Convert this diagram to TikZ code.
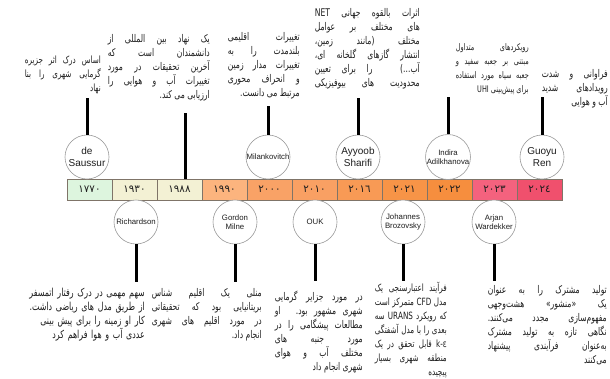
\documentclass[tikz,border=0pt]{standalone}
\usepackage{fontspec}
\setmainfont{Liberation Sans}
\newfontfamily\fa[Script=Arabic]{DejaVu Sans}
\newfontfamily\fan[Script=Arabic, FakeStretch=0.72]{DejaVu Sans}
\TeXXeTstate=1
\definecolor{c1770}{HTML}{DDF5DE}
\definecolor{c1930}{HTML}{F3F1D4}
\definecolor{c1990}{HTML}{FCB47E}
\definecolor{c2000}{HTML}{F9A266}
\definecolor{c2010}{HTML}{F9A063}
\definecolor{c2016}{HTML}{F89A55}
\definecolor{c2021}{HTML}{F79447}
\definecolor{c2022}{HTML}{F68E3E}
\definecolor{c2023}{HTML}{F4627E}
\definecolor{c2024}{HTML}{F0506D}
\definecolor{cellline}{HTML}{7F7468}
\definecolor{circline}{HTML}{9A9A9A}
\definecolor{inktext}{HTML}{1E1E1E}
\newcommand\rtlj[1]{\parfillskip=0pt\relax\leftskip=0pt\relax\rightskip=0pt\relax\hbadness=10000\relax\tolerance=10000\relax\beginR #1\hfill\endR}
\newcommand\rtlline[1]{\beginR #1\endR\par}
\tikzset{
  yearcell/.style={draw=cellline, line width=0.6pt, minimum width=45pt, minimum height=21pt, inner sep=0pt, font=\fa\fontsize{10.3}{10.3}\selectfont, text=inktext},
  person/.style={circle, draw=circline, fill=white, line width=0.6pt, minimum size=44pt, inner sep=0pt, align=center, text=inktext},
  bigname/.style={font=\fontsize{10}{11.5}\selectfont},
  smallname/.style={font=\fontsize{7.8}{9.3}\selectfont},
  stem/.style={line width=3pt, black},
  desc/.style={inner sep=0pt, anchor=base east, align=justify, font=\fan\fontsize{10.6}{14}\selectfont, text=inktext},
  descsmall/.style={font=\fan\fontsize{10}{14}\selectfont},
}
\begin{document}
\begin{tikzpicture}[x=1pt,y=-1pt]
\useasboundingbox (0,0) rectangle (610,378);
\clip (0,0) rectangle (610,378);
% timeline cells
\node[yearcell, fill=c1770] (y1770) at (89.5,189.5) {١٧٧٠};
\node[yearcell, fill=c1930] (y1930) at (134.5,189.5) {١٩٣٠};
\node[yearcell, fill=c1930] (y1988) at (179.5,189.5) {١٩٨٨};
\node[yearcell, fill=c1990] (y1990) at (224.5,189.5) {١٩٩٠};
\node[yearcell, fill=c2000] (y2000) at (269.5,189.5) {٢٠٠٠};
\node[yearcell, fill=c2010] (y2010) at (314.5,189.5) {٢٠١٠};
\node[yearcell, fill=c2016] (y2016) at (359.5,189.5) {٢٠١٦};
\node[yearcell, fill=c2021] (y2021) at (404.5,189.5) {٢٠٢١};
\node[yearcell, fill=c2022] (y2022) at (449.5,189.5) {٢٠٢٢};
\node[yearcell, fill=c2023] (y2023) at (494.5,189.5) {٢٠٢٣};
\node[yearcell, fill=c2024] (y2024) at (539.5,189.5) {٢٠٢٤};
% people above
\node[person, bigname] (saussur) at (87,157) {de\\Saussur};
\node[person, smallname] (milank) at (268,157) {Milankovitch};
\node[person, bigname] (sharifi) at (358,157) {Ayyoob\\Sharifi};
\node[person, smallname] (indira) at (448,157) {Indira\\Adilkhanova};
\node[person, bigname] (guoyu) at (542,157) {Guoyu\\Ren};
% people below
\node[person, smallname] (richard) at (136,222) {Richardson};
\node[person, smallname] (gordon) at (235,222) {Gordon\\Milne};
\node[person, smallname] (ouk) at (315,222) {OUK};
\node[person, smallname] (johannes) at (403,222) {Johannes\\Brozovsky};
\node[person, smallname] (arjan) at (494,222) {Arjan\\Wardekker};
% stem ends
\coordinate (tSaussur) at (87,98);
\coordinate (t1988) at (185,113);
\coordinate (tMilank) at (268,106);
\coordinate (tSharifi) at (358,98);
\coordinate (tIndira) at (448,97);
\coordinate (tGuoyu) at (542,97);
\coordinate (bRichard) at (136,282);
\coordinate (bGordon) at (235,282);
\coordinate (bOuk) at (315,281);
\coordinate (bJohannes) at (403,281);
\coordinate (bArjan) at (494,281);
\draw[stem] (saussur) -- (tSaussur);
\draw[stem] (t1988) -- (t1988 |- y1988.north);
\draw[stem] (milank) -- (tMilank);
\draw[stem] (sharifi) -- (tSharifi);
\draw[stem] (indira) -- (tIndira);
\draw[stem] (guoyu) -- (tGuoyu);
\draw[stem] (richard) -- (bRichard);
\draw[stem] (gordon) -- (bGordon);
\draw[stem] (ouk) -- (bOuk);
\draw[stem] (johannes) -- (bJohannes);
\draw[stem] (arjan) -- (bArjan);
% texts above
\node[desc, descsmall, text width=76pt] (dSaussur) at (101,63) {\rtlj{اساس درک اثر جزیره\linebreak گرمایی شهری را بنا\linebreak نهاد}};
\node[desc, text width=102pt] (d1988) at (210,42) {\rtlj{یک نهاد بین المللی از\linebreak دانشمندان است که\linebreak آخرین تحقیقات در مورد\linebreak تغییرات آب و هوایی را\linebreak ارزیابی می کند.}};
\node[desc, text width=72pt] (dMilank) at (300,40) {\rtlj{تغییرات اقلیمی\linebreak بلندمدت را به\linebreak تغییرات مدار زمین\linebreak و انحراف محوری\linebreak مرتبط می دانست.}};
\node[desc, text width=105pt] (dSharifi) at (420,16) {\rtlj{اثرات بالقوه جهانی NET\linebreak های مختلف بر عوامل\linebreak مختلف (مانند زمین،\linebreak انتشار گازهای گلخانه ای،\linebreak آب...) را برای تعیین\linebreak محدودیت های بیوفیزیکی}};
\node[desc, text width=73pt, font=\fan\fontsize{9.1}{14}\selectfont] (dIndira) at (529,50) {\rtlj{رویکردهای متداول\linebreak مبتنی بر جعبه سفید و\linebreak جعبه سیاه مورد استفاده\linebreak برای پیش‌بینی UHI}};
\node[desc, text width=66pt] (dGuoyu) at (608,77) {\rtlj{فراوانی و شدت\linebreak رویدادهای شدید\linebreak آب و هوایی}};
% texts below
\node[desc, text width=117pt, align=right, font=\fan\fontsize{11}{14}\selectfont] (dRichard) at (145,296) {\rtlline{سهم مهمی در درک رفتار اتمسفر}\rtlline{از طریق مدل های ریاضی داشت.}\rtlline{کار او زمینه را برای پیش بینی}\rtlline{عددی آب و هوا فراهم کرد}};
\node[desc, text width=110pt] (dGordon) at (262,296) {\rtlj{منلی یک اقلیم شناس\linebreak بریتانیایی بود که تحقیقاتی\linebreak در مورد اقلیم های شهری\linebreak انجام داد.}};
\node[desc, text width=88pt] (dOuk) at (363,300) {\rtlj{در مورد جزایر گرمایی\linebreak شهری مشهور بود. او\linebreak مطالعات پیشگامی را در\linebreak مورد جنبه های\linebreak مختلف آب و هوای\linebreak شهری انجام داد}};
\node[desc, descsmall, text width=72pt] (dJohannes) at (447,291) {\rtlj{فرآیند اعتبارسنجی یک\linebreak مدل CFD متمرکز است\linebreak که رویکرد URANS سه\linebreak بعدی را با مدل آشفتگی\linebreak k-ε قابل تحقق در یک\linebreak منطقه شهری بسیار\linebreak پیچیده}};
\node[desc, text width=119pt] (dArjan) at (607,293) {\rtlj{تولید مشترک را به عنوان\linebreak یک «منشور» هشت‌وجهی\linebreak مفهوم‌سازی مجدد می‌کنند.\linebreak نگاهی تازه به تولید مشترک\linebreak به‌عنوان فرآیندی پیشنهاد\linebreak می‌کنند}};
\end{tikzpicture}
\end{document}
